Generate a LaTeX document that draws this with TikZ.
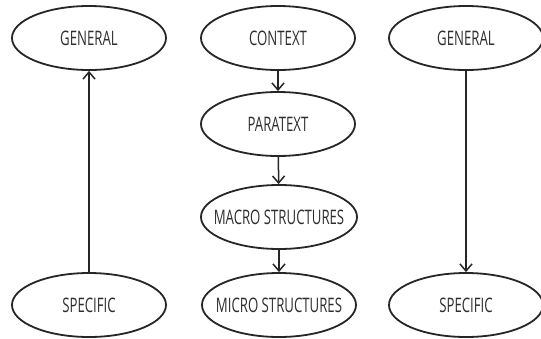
\documentclass[tikz,border=0pt]{standalone}
\usepackage{fontspec}
\setmainfont{Open Sans}[FakeStretch=0.66]
\usetikzlibrary{shapes.geometric,arrows.meta}
\definecolor{ink}{HTML}{262626}
\definecolor{label}{HTML}{2E2E2E}
\newcommand{\olabel}[1]{\makebox[0pt]{#1}}
\tikzset{
  oval/.style={ellipse, draw=ink, line width=1.8pt, inner sep=0pt,
    minimum width=154pt, minimum height=64pt,
    font=\fontsize{20}{22}\selectfont, text=label},
  link/.style={draw=ink, line width=1.5pt,
    -{Straight Barb[length=7pt,width=12pt,line width=1.5pt]}}
}
\begin{document}
\begin{tikzpicture}[x=1pt,y=-1pt]
\useasboundingbox (0,0) rectangle (541,338);
% left column: specific up to general
\node[oval] (g1) at (89,38) {\olabel{GENERAL}};
\node[oval] (s1) at (89,305) {\olabel{SPECIFIC}};
% middle column: context down to micro structures
\node[oval] (ctx) at (278,38) {\olabel{CONTEXT}};
\node[oval] (par) at (278,124) {\olabel{PARATEXT}};
\node[oval, minimum width=156pt] (mac) at (279,217) {\olabel{MACRO STRUCTURES}};
\node[oval] (mic) at (279,305) {\olabel{MICRO STRUCTURES}};
% right column: general down to specific
\node[oval] (g2) at (466,38) {\olabel{GENERAL}};
\node[oval] (s2) at (466,305) {\olabel{SPECIFIC}};
% connectors
\draw[link] (s1) -- (g1);
\draw[link] (ctx) -- (par);
\draw[link] (par) -- (mac);
\draw[link] (mac) -- (mic);
\draw[link] (g2) -- (s2);
\end{tikzpicture}
\end{document}
